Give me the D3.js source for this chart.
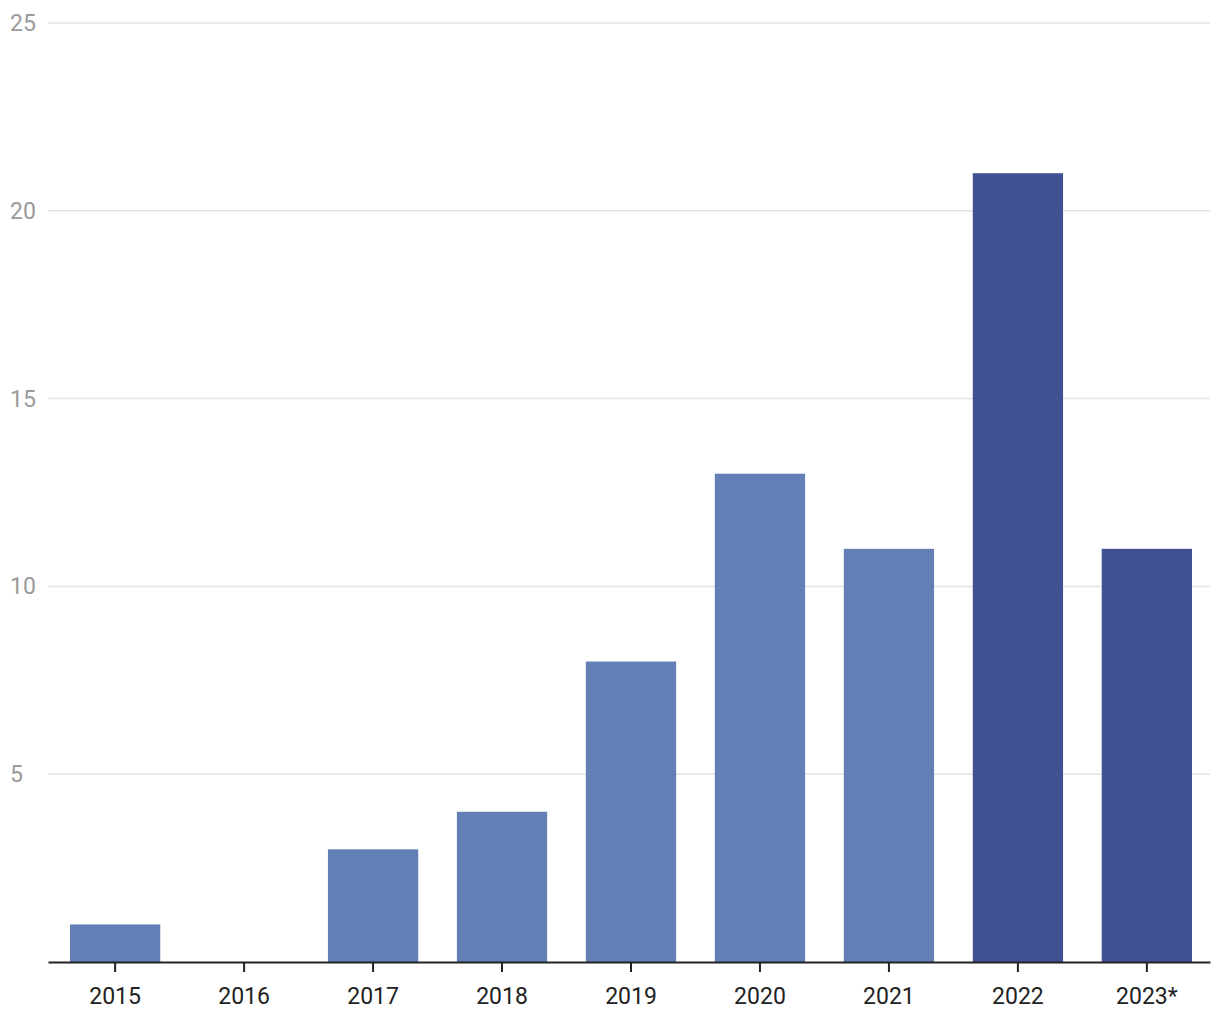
<!DOCTYPE html>
<html>
<head>
<meta charset="utf-8">
<script src="https://cdn.jsdelivr.net/npm/d3@7"></script>
<style>
  body { margin: 0; background: #fff; font-family: Roboto, "Noto Sans", sans-serif; }
  #chart { width: 1220px; height: 1020px; }
  .grid line { stroke: #e3e3e3; stroke-width: 1.5; }
  .y-label { fill: #9a9a9a; font-size: 23px; }
  .x-axis text { fill: #222; font-size: 23px; }
</style>
</head>
<body>
<div id="chart"></div>
<script>
// Datos
let years = ['2015', '2016', '2017', '2018', '2019', '2020', '2021', '2022', '2023*'];
let values = [1, 0, 3, 4, 8, 13, 11, 21, 11];
let highlighted = ['2022', '2023*'];
let yTicks = [5, 10, 15, 20, 25];

let margin = {top: 23, right: 10, bottom: 58, left: 48};
let width = 1220 - margin.left - margin.right,
    height = 1020 - margin.top - margin.bottom;

let svg = d3.select('#chart').append('svg')
    .attr('width', 1220)
    .attr('height', 1020);

let chart = svg.append('g')
    .attr('transform', 'translate(' + margin.left + ',' + margin.top + ')');

//Escalas
let x = d3.scaleBand()
    .domain(years)
    .range([0, width])
    .paddingInner(0.3)
    .paddingOuter(0.155)
    .align(0.55);

let y = d3.scaleLinear()
    .domain([0, 25])
    .range([height, 0]);

//Rejilla y etiquetas eje Y
let grid = chart.append('g').attr('class', 'grid');
grid.selectAll('line')
    .data(yTicks)
    .enter()
    .append('line')
    .attr('x1', 0)
    .attr('x2', width)
    .attr('y1', d => y(d))
    .attr('y2', d => y(d));

chart.selectAll('.y-label')
    .data(yTicks)
    .enter()
    .append('text')
    .attr('class', 'y-label')
    .attr('x', -margin.left + 10)
    .attr('y', d => y(d))
    .attr('dy', '0.35em')
    .text(d => d);

//Barras
chart.selectAll('.bar')
    .data(values)
    .enter()
    .append('rect')
    .attr('class', 'bar')
    .attr('x', (d, i) => x(years[i]))
    .attr('width', x.bandwidth())
    .attr('y', d => y(d))
    .attr('height', d => y(0) - y(d))
    .style('fill', (d, i) => highlighted.indexOf(years[i]) > -1 ? '#415294' : '#6280b5');

//Eje X
let xAxis = chart.append('g')
    .attr('class', 'x-axis')
    .attr('transform', 'translate(0,' + height + ')')
    .call(d3.axisBottom(x).tickSize(10).tickPadding(16).tickSizeOuter(0));

xAxis.select('.domain').attr('stroke', '#222').attr('stroke-width', 2);
xAxis.selectAll('.tick line').attr('stroke', '#222').attr('stroke-width', 2);
xAxis.selectAll('.tick text').style('font-family', 'Roboto, sans-serif');
</script>
</body>
</html>
